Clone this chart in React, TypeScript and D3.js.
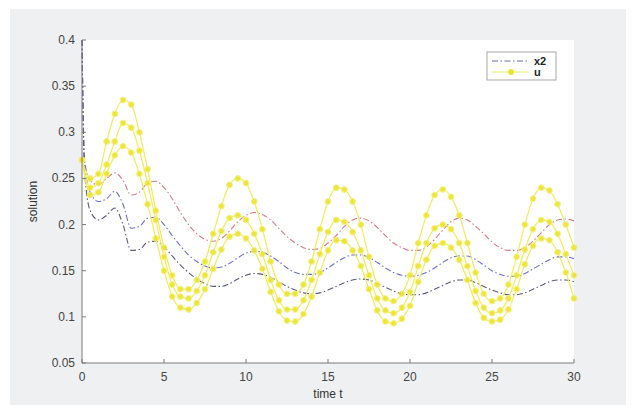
import { useEffect, useRef } from 'react';
import * as d3 from 'd3';

// sample times for u (and x2 after the initial drop)
const t_values = [
    0, 0.5, 1, 1.5, 2, 2.5, 3, 3.5, 4, 4.5, 5, 5.5, 6, 6.5, 7, 7.5, 8, 8.5, 9, 9.5,
    10, 10.5, 11, 11.5, 12, 12.5, 13, 13.5, 14, 14.5, 15, 15.5, 16, 16.5, 17, 17.5, 18, 18.5, 19, 19.5,
    20, 20.5, 21, 21.5, 22, 22.5, 23, 23.5, 24, 24.5, 25, 25.5, 26, 26.5, 27, 27.5, 28, 28.5, 29, 29.5, 30
];
// x2 has an extra sample just after t=0 for the steep start
const t_x2 = [0, 0.15, ...t_values.slice(1)];

const u_top = [
    0.27, 0.25, 0.255, 0.29, 0.32, 0.335, 0.33, 0.30, 0.26, 0.215, 0.175, 0.145, 0.13, 0.13, 0.14, 0.16, 0.19, 0.22, 0.243, 0.25,
    0.245, 0.225, 0.195, 0.16, 0.135, 0.125, 0.125, 0.135, 0.16, 0.195, 0.225, 0.24, 0.238, 0.225, 0.2, 0.165, 0.135, 0.12, 0.117, 0.125,
    0.145, 0.18, 0.21, 0.232, 0.238, 0.23, 0.21, 0.18, 0.148, 0.125, 0.117, 0.12, 0.135, 0.165, 0.2, 0.228, 0.24, 0.237, 0.222, 0.2, 0.175
];
const u_mid = [
    0.27, 0.24, 0.245, 0.265, 0.29, 0.31, 0.305, 0.28, 0.245, 0.205, 0.165, 0.135, 0.122, 0.12, 0.128, 0.145, 0.17, 0.193, 0.207, 0.21,
    0.205, 0.19, 0.168, 0.14, 0.118, 0.108, 0.108, 0.118, 0.14, 0.168, 0.192, 0.205, 0.203, 0.192, 0.172, 0.145, 0.12, 0.107, 0.104, 0.11,
    0.127, 0.155, 0.18, 0.196, 0.2, 0.195, 0.18, 0.155, 0.128, 0.11, 0.104, 0.107, 0.12, 0.145, 0.173, 0.195, 0.205, 0.203, 0.19, 0.168, 0.145
];
const u_low = [
    0.27, 0.232, 0.235, 0.255, 0.275, 0.285, 0.278, 0.255, 0.222, 0.185, 0.15, 0.122, 0.11, 0.108, 0.115, 0.13, 0.152, 0.173, 0.187, 0.19,
    0.185, 0.172, 0.152, 0.127, 0.106, 0.096, 0.095, 0.103, 0.122, 0.148, 0.172, 0.183, 0.182, 0.172, 0.155, 0.13, 0.107, 0.095, 0.093, 0.098,
    0.112, 0.138, 0.162, 0.177, 0.18, 0.175, 0.162, 0.14, 0.115, 0.099, 0.095, 0.097, 0.108, 0.13, 0.157, 0.177, 0.185, 0.183, 0.17, 0.148, 0.12
];

const x2_top = [
    0.4, 0.27, 0.248, 0.243, 0.25, 0.256, 0.248, 0.232, 0.235, 0.245, 0.247, 0.24, 0.228, 0.213, 0.2, 0.19, 0.184, 0.182, 0.185, 0.193, 0.203,
    0.21, 0.213, 0.211, 0.205, 0.196, 0.187, 0.18, 0.175, 0.173, 0.174, 0.18, 0.188, 0.198, 0.205, 0.207, 0.204, 0.197, 0.188, 0.18, 0.175,
    0.172, 0.172, 0.176, 0.184, 0.194, 0.203, 0.207, 0.205, 0.198, 0.19, 0.181, 0.175, 0.172, 0.172, 0.175, 0.182, 0.191, 0.2, 0.205, 0.206, 0.204
];
const x2_mid = [
    0.4, 0.27, 0.235, 0.225, 0.228, 0.236, 0.222, 0.196, 0.198, 0.207, 0.208, 0.2, 0.188, 0.177, 0.167, 0.16, 0.155, 0.153, 0.154, 0.158, 0.164,
    0.169, 0.171, 0.17, 0.166, 0.16, 0.153, 0.148, 0.146, 0.146, 0.148, 0.153, 0.159, 0.164, 0.167, 0.167, 0.164, 0.159, 0.153, 0.148, 0.145,
    0.144, 0.145, 0.148, 0.153, 0.159, 0.164, 0.166, 0.166, 0.162, 0.156, 0.15, 0.146, 0.144, 0.144, 0.147, 0.152, 0.157, 0.162, 0.165, 0.165, 0.163
];
const x2_low = [
    0.4, 0.26, 0.215, 0.205, 0.21, 0.218, 0.2, 0.172, 0.173, 0.181, 0.182, 0.176, 0.166, 0.156, 0.148, 0.141, 0.136, 0.133, 0.133, 0.136, 0.141,
    0.145, 0.147, 0.146, 0.143, 0.138, 0.133, 0.129, 0.126, 0.125, 0.126, 0.129, 0.133, 0.137, 0.14, 0.141, 0.14, 0.136, 0.132, 0.128, 0.125,
    0.124, 0.124, 0.126, 0.13, 0.134, 0.138, 0.14, 0.14, 0.137, 0.133, 0.129, 0.126, 0.124, 0.124, 0.126, 0.13, 0.134, 0.138, 0.14, 0.14, 0.138
];

const x_ticks = [0, 5, 10, 15, 20, 25, 30];
const y_ticks = [0.05, 0.1, 0.15, 0.2, 0.25, 0.3, 0.35, 0.4];
const legend_labels = ['x2', 'u'];

export default function App() {
    const svg_ref = useRef(null);

    useEffect(() => {
        const width = 633;
        const height = 405;
        const plot = { left: 82, right: 574, top: 40, bottom: 363 };
        const font = '"Liberation Sans", Arial, sans-serif';

        const svg = d3.select(svg_ref.current);
        svg.selectAll('*').remove();

        // soft look like the scanned figure
        svg.append('defs').append('filter')
            .attr('id', 'soft')
            .append('feGaussianBlur')
            .attr('stdDeviation', 0.45);

        // figure background
        svg.append('rect').attr('width', width).attr('height', height).attr('fill', '#ffffff');
        svg.append('rect')
            .attr('x', 10).attr('y', 9)
            .attr('width', 616).attr('height', height - 9)
            .attr('fill', '#eff0f1');
        svg.append('rect')
            .attr('x', plot.left).attr('y', plot.top)
            .attr('width', plot.right - plot.left).attr('height', plot.bottom - plot.top)
            .attr('fill', '#ffffff');

        // scales
        const x_scale = d3.scaleLinear().domain([0, 30]).range([plot.left, plot.right]);
        const y_scale = d3.scaleLinear().domain([0.05, 0.4]).range([plot.bottom, plot.top]);

        const line = d3.line()
            .x(d => x_scale(d[0]))
            .y(d => y_scale(d[1]))
            .curve(d3.curveMonotoneX);

        const curves_g = svg.append('g').attr('filter', 'url(#soft)');

        // x2 curves, dash-dot
        const x2_series = [
            { values: x2_top, color: '#d27a86' },
            { values: x2_mid, color: '#6b6fd0' },
            { values: x2_low, color: '#5d5a78' }
        ];
        x2_series.forEach(function(s) {
            const pts = t_x2.map((t, i) => [t, s.values[i]]);
            curves_g.append('path')
                .attr('d', line(pts))
                .attr('fill', 'none')
                .attr('stroke', s.color)
                .attr('stroke-width', 1.1)
                .attr('stroke-dasharray', '6,2.5,1.5,2.5');
        });

        // u curves, yellow with markers
        const u_series = [u_top, u_mid, u_low];
        u_series.forEach(function(values) {
            const pts = t_values.map((t, i) => [t, values[i]]);
            curves_g.append('path')
                .attr('d', line(pts))
                .attr('fill', 'none')
                .attr('stroke', '#f1ec5a')
                .attr('stroke-width', 1.2);
            curves_g.selectAll(null)
                .data(pts).enter()
                .append('circle')
                .attr('cx', d => x_scale(d[0]))
                .attr('cy', d => y_scale(d[1]))
                .attr('r', 2.9)
                .attr('fill', '#ebe42c')
                .attr('stroke', '#f3ef7a')
                .attr('stroke-width', 1)
                .style('opacity', 0.9);
        });

        // axes (left and bottom only, ticks inward)
        const axis_color = '#7a7a7a';
        svg.append('line')
            .attr('x1', plot.left).attr('x2', plot.left)
            .attr('y1', plot.top).attr('y2', plot.bottom)
            .attr('stroke', axis_color);
        svg.append('line')
            .attr('x1', plot.left).attr('x2', plot.right)
            .attr('y1', plot.bottom).attr('y2', plot.bottom)
            .attr('stroke', axis_color);

        x_ticks.forEach(function(v) {
            const x = x_scale(v);
            svg.append('line')
                .attr('x1', x).attr('x2', x)
                .attr('y1', plot.bottom).attr('y2', plot.bottom - 4)
                .attr('stroke', axis_color);
            svg.append('text')
                .attr('x', x).attr('y', plot.bottom + 18)
                .attr('text-anchor', 'middle')
                .attr('font-family', font).attr('font-size', 12)
                .attr('fill', '#444')
                .text(v);
        });

        y_ticks.forEach(function(v) {
            const y = y_scale(v);
            svg.append('line')
                .attr('x1', plot.left).attr('x2', plot.left + 4)
                .attr('y1', y).attr('y2', y)
                .attr('stroke', axis_color);
            svg.append('text')
                .attr('x', plot.left - 7).attr('y', y + 4)
                .attr('text-anchor', 'end')
                .attr('font-family', font).attr('font-size', 12)
                .attr('fill', '#444')
                .text(v);
        });

        // axis titles
        svg.append('text')
            .attr('x', (plot.left + plot.right) / 2).attr('y', 398)
            .attr('text-anchor', 'middle')
            .attr('font-family', font).attr('font-size', 12)
            .attr('fill', '#333')
            .text('time t');
        svg.append('text')
            .attr('transform', 'translate(37,' + ((plot.top + plot.bottom) / 2) + ') rotate(-90)')
            .attr('text-anchor', 'middle')
            .attr('font-family', font).attr('font-size', 12)
            .attr('fill', '#333')
            .text('solution');

        // legend
        const legend = svg.append('g').attr('transform', 'translate(487,52)');
        legend.append('rect')
            .attr('width', 69).attr('height', 28)
            .attr('fill', '#ffffff')
            .attr('stroke', '#a8a8a8');
        legend.append('line')
            .attr('x1', 5).attr('x2', 42).attr('y1', 9).attr('y2', 9)
            .attr('stroke', '#6b6fa0')
            .attr('stroke-dasharray', '6,2.5,1.5,2.5');
        legend.append('line')
            .attr('x1', 5).attr('x2', 42).attr('y1', 20).attr('y2', 20)
            .attr('stroke', '#f1ec5a').attr('stroke-width', 1.2);
        legend.append('circle')
            .attr('cx', 24).attr('cy', 20).attr('r', 2.9)
            .attr('fill', '#ebe42c');
        legend.selectAll(null)
            .data(legend_labels).enter()
            .append('text')
            .attr('x', 47)
            .attr('y', (d, i) => 13 + i * 11)
            .attr('font-family', font).attr('font-size', 11)
            .attr('font-weight', 'bold')
            .attr('fill', '#222')
            .text(d => d);
    }, []);

    return (
        <svg ref={svg_ref} width={633} height={405}
            style={{ position: 'absolute', left: 0, top: 0, display: 'block' }} />
    );
}
